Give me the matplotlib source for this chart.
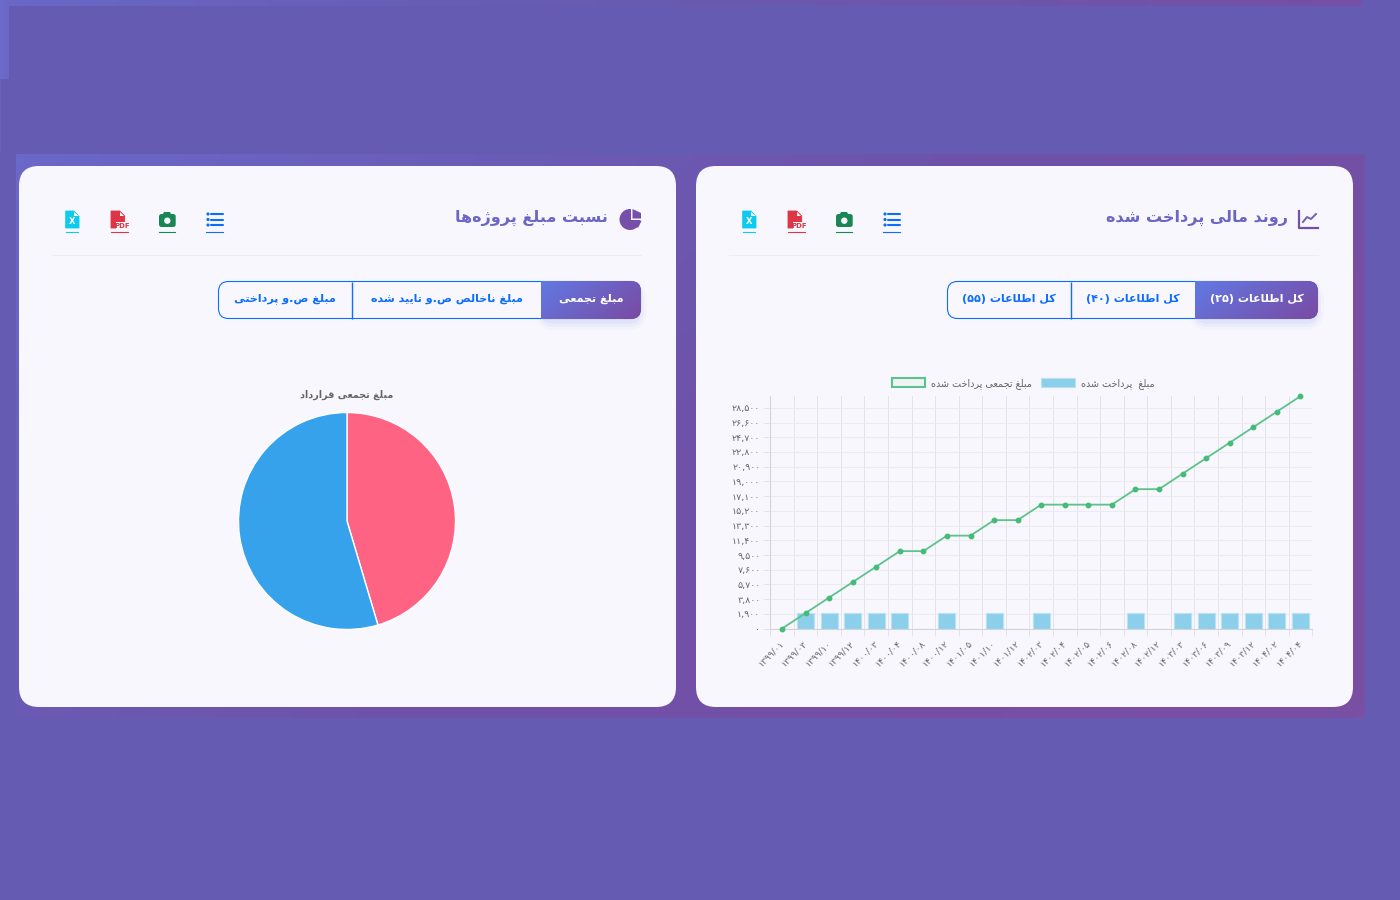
"""Payment dashboard: cumulative trend chart and project amount pie."""

from __future__ import annotations

import unicodedata

import matplotlib

matplotlib.use("Agg")
import matplotlib.pyplot as plt
import numpy as np
from matplotlib.colors import LinearSegmentedColormap
from matplotlib.patches import Circle, FancyBboxPatch, Patch, Polygon, Rectangle

months = [
    "۱۳۹۹/۰۱", "۱۳۹۹/۰۳", "۱۳۹۹/۱۰", "۱۳۹۹/۱۲", "۱۴۰۰/۰۳", "۱۴۰۰/۰۴",
    "۱۴۰۰/۰۸", "۱۴۰۰/۱۲", "۱۴۰۱/۰۵", "۱۴۰۱/۱۰", "۱۴۰۱/۱۲", "۱۴۰۲/۰۳",
    "۱۴۰۲/۰۴", "۱۴۰۲/۰۵", "۱۴۰۲/۰۶", "۱۴۰۲/۰۸", "۱۴۰۲/۱۲", "۱۴۰۳/۰۳",
    "۱۴۰۳/۰۶", "۱۴۰۳/۰۹", "۱۴۰۳/۱۲", "۱۴۰۴/۰۲", "۱۴۰۴/۰۴",
]
paid = [0, 2000, 2000, 2000, 2000, 2000, 0, 2000, 0, 2000, 0, 2000,
        0, 0, 0, 2000, 0, 2000, 2000, 2000, 2000, 2000, 2000]
cumulative = [0, 2000, 4000, 6000, 8000, 10000, 10000, 12000, 12000, 14000, 14000, 16000,
              16000, 16000, 16000, 18000, 18000, 20000, 22000, 24000, 26000, 28000, 30000]
y_ticks = [0, 1900, 3800, 5700, 7600, 9500, 11400, 13300, 15200, 17100,
           19000, 20900, 22800, 24700, 26600, 28500]
y_max = 30000
pie_values = [45.4, 54.6]
pie_colors = ["#ff6384", "#36a2eb"]

BG = "#655bb2"
CARD = "#f8f7fd"
BLUE = "#0d6efd"
GREY = "#666666"
TITLE = "#6b66c6"
PURPLE = "#7650a8"
BAND = ["#6a68c8", "#6a5cb6", "#6f52a9", "#764fa6", "#7a4fa4"]
TOP_STRIP = ["#6a68c8", "#675fb8", "#685ab0", "#6e55aa", "#7650a5"]

FONT = ["DejaVu Sans"]
ZWNJ = "\u200c"

# letters that never join the following letter
RIGHT_ONLY = set("اآأإدذرزژوؤة")
MIRROR = {"(": ")", ")": "("}


def fa(text: str) -> str:
    """Shape Persian text into presentation forms, in visual order."""

    def joins(ch):
        return unicodedata.category(ch) == "Lo" and "\u0600" <= ch <= "\u06ff"

    shaped = []
    for i, ch in enumerate(text):
        if ch == ZWNJ:
            continue
        if not joins(ch):
            shaped.append(MIRROR.get(ch, ch))
            continue
        prev_ok = i > 0 and joins(text[i - 1]) and text[i - 1] not in RIGHT_ONLY
        next_ok = i + 1 < len(text) and joins(text[i + 1]) and ch not in RIGHT_ONLY
        form = {
            (True, True): "MEDIAL",
            (True, False): "FINAL",
            (False, True): "INITIAL",
            (False, False): "ISOLATED",
        }[(prev_ok, next_ok)]
        try:
            shaped.append(unicodedata.lookup(f"{unicodedata.name(ch)} {form} FORM"))
        except KeyError:
            shaped.append(ch)
    # reverse for drawing, but keep digit runs reading left to right
    out, run = [], []
    for ch in reversed(shaped):
        if ch.isdigit() or (run and ch in ",/"):
            run.append(ch)
        else:
            out.extend(reversed(run))
            run = []
            out.append(ch)
    out.extend(reversed(run))
    return "".join(out)


def gradient(ax, box, colors, zorder=1, angle=0.25):
    """Fill a pixel box with a diagonal gradient."""

    x0, y0, x1, y1 = box
    xx, yy = np.meshgrid(np.linspace(0, 1, 300), np.linspace(0, 1, 60))
    cmap = LinearSegmentedColormap.from_list("g", colors)
    return ax.imshow(xx * (1 - angle) + yy * angle, extent=(x0, x1, y1, y0), cmap=cmap,
                     vmin=0, vmax=1, aspect="auto", zorder=zorder, interpolation="bilinear")


def round_box(ax, x0, y0, x1, y1, r, **kw):
    box = FancyBboxPatch((x0 + r, y0 + r), x1 - x0 - 2 * r, y1 - y0 - 2 * r,
                         boxstyle=f"round,pad={r},rounding_size={r}", **kw)
    ax.add_patch(box)
    return box


def draw_card(ax, x0, title, title_right):
    x1 = x0 + 657
    round_box(ax, x0, 166, x1, 707, 20, fc=CARD, ec="none", zorder=3)
    ax.plot([x0 + 33, x0 + 622], [255, 255], color="#eeedf4", lw=0.8, zorder=4)
    ax.text(title_right, 218, fa(title), ha="right", va="center", fontsize=11.5, fontweight="bold",
            color=TITLE, family=FONT, zorder=5)


def draw_buttons(ax, edges, labels):
    """Segmented button group, the rightmost segment is the active one."""

    left, right = edges[0], edges[-1]
    y0, y1 = 281, 319
    a0, a1 = edges[-2], edges[-1]
    for grow, alpha in ((9, 0.03), (6, 0.05), (3, 0.07)):
        round_box(ax, a0 - grow + 3, y0 + 6 - grow + 3, a1 + grow - 3, y1 + grow + 2, 10 + grow,
                  fc="#6478e0", ec="none", alpha=alpha, zorder=4)
    round_box(ax, left + 0.5, y0 + 0.5, right - 0.5, y1 - 0.5, 10, fc=CARD, ec=BLUE, lw=0.8, zorder=5)
    clip = round_box(ax, left, y0, right, y1, 10, fc="none", ec="none", zorder=1)
    im = gradient(ax, (a0, y0, a1, y1), ["#6179e4", "#7a4aa2"], zorder=6, angle=0.3)
    im.set_clip_path(clip)
    for e in edges[1:-2]:
        ax.plot([e, e], [y0 + 0.5, y1 - 0.5], color=BLUE, lw=1.0, solid_capstyle="butt", zorder=6)
    for i, label in enumerate(labels):
        cx = (edges[-1 - i] + edges[-2 - i]) / 2
        ax.text(cx, 299, fa(label), ha="center", va="center", fontsize=8, fontweight="bold",
                color="white" if i == 0 else BLUE, family=FONT, zorder=7)


def file_shape(ax, x0, x1, color):
    y0, y1 = 211, 228
    ax.add_patch(Polygon([(x0, y0), (x1 - 5, y0), (x1, y0 + 5), (x1, y1), (x0, y1)],
                         closed=True, fc=color, ec=color, lw=0.6, joinstyle="round", zorder=5))
    ax.add_patch(Polygon([(x1 - 5, y0 + 0.5), (x1 - 5, y0 + 5), (x1 - 0.5, y0 + 5)],
                         closed=True, fc=CARD, ec="none", zorder=6))


def draw_tools(ax, offset):
    """Export icons above each chart; offset is the card's x shift."""

    # excel file
    cx = 72 + offset
    file_shape(ax, cx - 6.3, cx + 7, "#0dcaf0")
    ax.text(cx + 0.3, 222, "X", ha="center", va="center", fontsize=6, fontweight="bold",
            color="white", family=FONT, zorder=7)
    ax.plot([cx - 6, cx + 6], [231.5, 231.5], color="#0dcaf0", lw=0.8, zorder=5)

    # pdf file
    cx = 119 + offset
    file_shape(ax, cx - 8, cx + 5.7, "#dc3545")
    ax.add_patch(Rectangle((cx - 3.5, 222), 13.5, 8, fc=CARD, ec="none", zorder=6))
    ax.text(cx + 3.2, 226, "PDF", ha="center", va="center", fontsize=5, fontweight="bold",
            color="#dc3545", family=FONT, zorder=7)
    ax.plot([cx - 8, cx + 9], [231.5, 231.5], color="#dc3545", lw=0.8, zorder=5)

    # camera
    cx = 167 + offset
    round_box(ax, cx - 8, 214, cx + 8.7, 227, 2.5, fc="#198754", ec="none", zorder=5)
    ax.add_patch(Polygon([(cx - 4.5, 215), (cx - 3, 212), (cx + 3, 212), (cx + 4.5, 215)],
                         closed=True, fc="#198754", ec="none", zorder=5))
    ax.add_patch(Circle((cx + 0.3, 220.7), 3.2, fc=CARD, ec="none", zorder=6))
    ax.plot([cx - 8, cx + 8], [231.5, 231.5], color="#198754", lw=0.8, zorder=5)

    # list
    cx = 215 + offset
    for y in (214, 219.5, 225):
        ax.add_patch(Circle((cx - 7, y), 1.6, fc=BLUE, ec="none", zorder=5))
        ax.plot([cx - 4, cx + 8], [y, y], color=BLUE, lw=1.5, solid_capstyle="round", zorder=5)
    ax.plot([cx - 9, cx + 8], [231.5, 231.5], color=BLUE, lw=0.8, zorder=5)


fig = plt.figure(figsize=(14, 9), dpi=100, facecolor=BG)

# page layer in pixel units, y going down
page = fig.add_axes([0, 0, 1, 1], zorder=0)
page.axis("off")

gradient(page, (0, 0, 1362, 6), TOP_STRIP, zorder=1, angle=0)
gradient(page, (0, 0, 9, 79), ["#6d6bcd", "#6a67c6"], zorder=1, angle=0)
page.add_patch(Rectangle((0, 79), 1.2, 74, fc="#6760be", ec="none", zorder=1))
gradient(page, (16, 154, 1365, 718), BAND, zorder=1, angle=0.3)
page.set_xlim(0, 1400)
page.set_ylim(900, 0)

draw_card(page, 19, "نسبت مبلغ پروژه\u200cها", 608)
draw_card(page, 696, "روند مالی پرداخت شده", 1288)
draw_tools(page, 0)
draw_tools(page, 677)
draw_buttons(page, [218, 352, 541, 641], ["مبلغ تجمعی", "مبلغ ناخالص ص.و تایید شده", "مبلغ ص.و پرداختی"])
draw_buttons(page, [947, 1071, 1195, 1318], ["کل اطلاعات (۲۵)", "کل اطلاعات (۴۰)", "کل اطلاعات (۵۵)"])

# title icons
page.add_patch(Circle((630, 219.5), 10.5, fc=PURPLE, ec="none", zorder=5))
page.add_patch(Polygon([(631, 207), (643, 207), (643, 220), (631, 220)], closed=True,
                       fc=CARD, ec="none", zorder=6))
page.add_patch(Polygon([(632.5, 209), (641, 213), (641, 218.5), (632.5, 218.5)], closed=True,
                       fc=PURPLE, ec="none", zorder=7))
page.add_patch(Polygon([(632, 221), (641.5, 221), (638, 228)], closed=True,
                       fc=PURPLE, ec="none", zorder=7))
page.plot([1299, 1299, 1318], [211, 227.5, 227.5], color=PURPLE, lw=1.6, zorder=5)
page.plot([1303, 1307, 1311, 1316], [222, 217, 219, 214], color="#6c62bb", lw=1.4, zorder=5)

# trend chart
x = np.arange(len(months))
ax = fig.add_axes([770.2 / 1400, 1 - 628.6 / 900, 542 / 1400, (628.6 - 396.2) / 900], zorder=2)
ax.patch.set_alpha(0)
ax.bar(x, paid, width=0.72, color="#8ccfeb", edgecolor="#b9e2f3", linewidth=0.8, zorder=2)
ax.plot(x, cumulative, color="#5cc48a", lw=1.3, marker="o", ms=3.2, mfc="#45bb78", mec="#45bb78",
        zorder=3, clip_on=False)
ax.set_xlim(-0.5, len(months) - 0.5)
ax.set_ylim(0, y_max)
ax.set_xticks(np.arange(len(months) + 1) - 0.5)
ax.set_xticklabels([])
ax.set_yticks(y_ticks)
ax.set_yticklabels([fa(f"{v:,}".translate(str.maketrans("0123456789", "۰۱۲۳۴۵۶۷۸۹"))) for v in y_ticks],
                   fontsize=6.8, color=GREY, family=FONT)
ax.grid(True, axis="x", color="#e4e3e9", lw=0.7, zorder=0)
ax.grid(True, axis="y", color="#ecebf1", lw=0.8, zorder=0)
ax.set_axisbelow(True)
ax.tick_params(axis="both", length=5, width=0.7, color="#e4e3e9", pad=2)
for side in ("top", "right"):
    ax.spines[side].set_visible(False)
for side in ("left", "bottom"):
    ax.spines[side].set_color("#d4d3d9")
for xi, label in zip(x, months):
    ax.annotate(fa(label), (xi, 0), xytext=(-2, -7), textcoords="offset points", rotation=45,
                rotation_mode="anchor", ha="right", va="top", fontsize=6.6, color=GREY,
                family=FONT, annotation_clip=False)
handles = [
    Patch(fc="#eef3f3", ec="#5cc48a", lw=1.5, label=fa("مبلغ تجمعی پرداخت شده")),
    Patch(fc="#8ccfeb", ec="#b9e2f3", lw=0.8, label=fa("مبلغ  پرداخت شده")),
]
ax.legend(handles=handles, ncol=2, frameon=False, loc="lower center", bbox_to_anchor=(0.4665, 1.004),
          labelcolor=GREY, handlelength=3.5, handleheight=1.0, handletextpad=0.6, columnspacing=1.0,
          borderpad=0.2, prop={"family": FONT, "size": 6.9})

# pie chart
pie_ax = fig.add_axes([(347 - 112) / 1400, 1 - (521 + 112) / 900, 224 / 1400, 224 / 900], zorder=2)
pie_ax.pie(pie_values, colors=pie_colors, startangle=90, counterclock=False, radius=108.5 / 112,
           wedgeprops={"edgecolor": "white", "linewidth": 1.0})
pie_ax.set_xlim(-1, 1)
pie_ax.set_ylim(-1, 1)
page.text(347, 394.5, fa("مبلغ تجمعی قرارداد"), ha="center", va="center", fontsize=6.9,
          fontweight="bold", color=GREY, family=FONT, zorder=5)

fig.savefig("out.png", dpi=100, facecolor=BG)
plt.close(fig)
